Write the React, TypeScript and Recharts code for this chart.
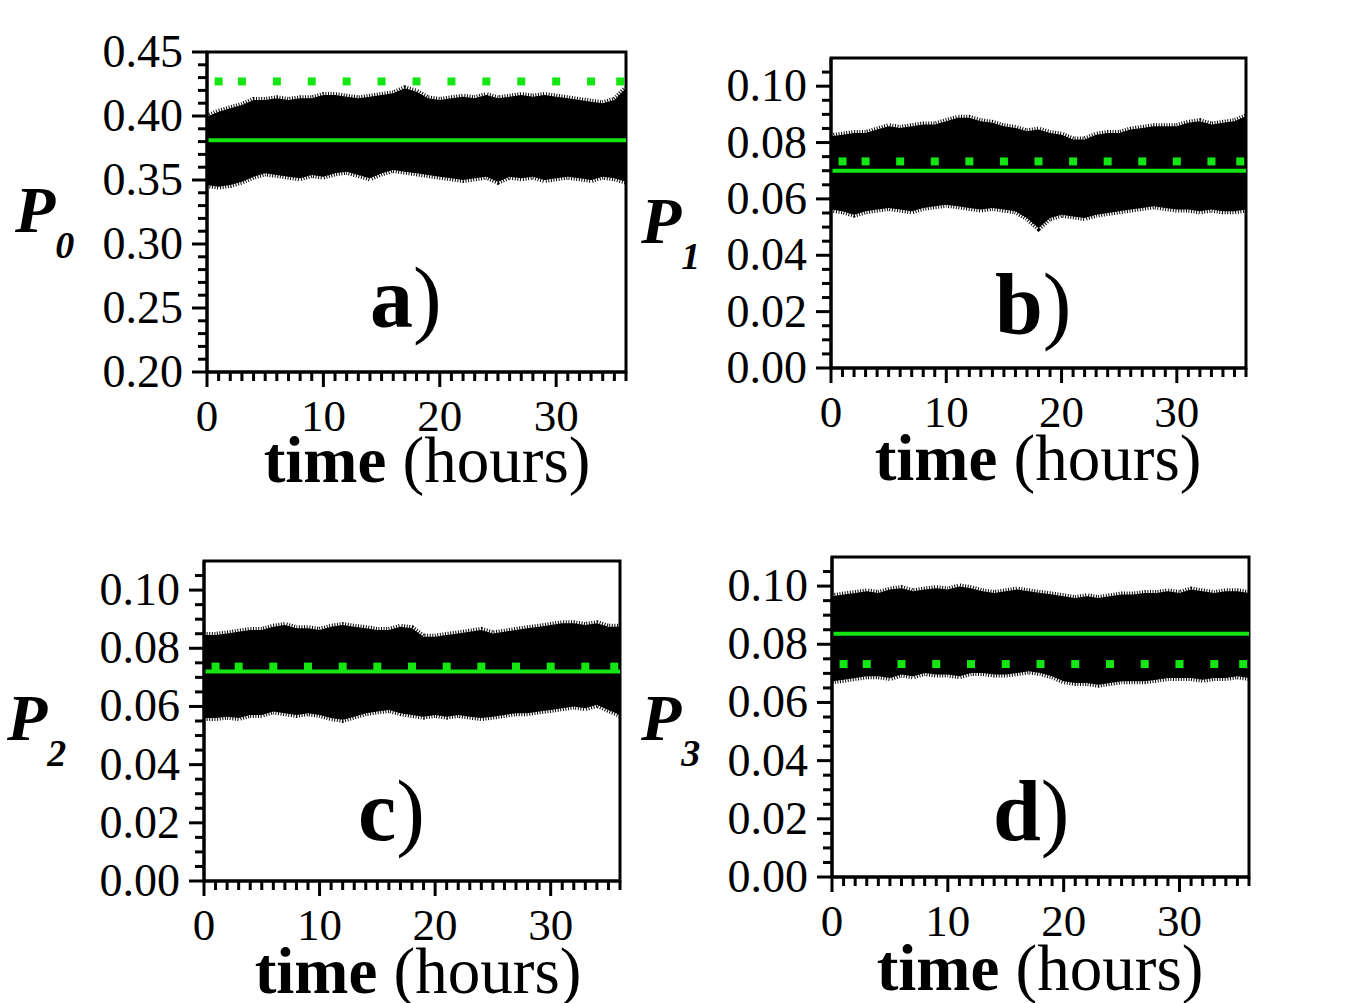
import {
  ComposedChart,
  Area,
  Line,
  Scatter,
  XAxis,
  YAxis,
  ReferenceArea,
  Label,
} from "recharts";

// time axis, hours
const hours = [
  0, 1, 2, 3, 4, 5, 6, 7, 8, 9, 10, 11, 12, 13, 14, 15, 16, 17, 18, 19, 20,
  21, 22, 23, 24, 25, 26, 27, 28, 29, 30, 31, 32, 33, 34, 35, 36,
];

// envelope of the noisy signal (upper / lower edge)
const p0High = [
  0.3995, 0.4034, 0.406, 0.4086, 0.4125, 0.4125, 0.4138, 0.4125, 0.4138,
  0.4138, 0.4164, 0.4164, 0.4151, 0.4138, 0.4151, 0.4164, 0.4177, 0.4216,
  0.419, 0.4138, 0.4125, 0.4138, 0.4151, 0.4138, 0.4164, 0.4138, 0.4151,
  0.4164, 0.4151, 0.4164, 0.4151, 0.4138, 0.4125, 0.4112, 0.4099, 0.4125,
  0.4216,
];
const p0Low = [
  0.3461, 0.3448, 0.3461, 0.3487, 0.3526, 0.3552, 0.3539, 0.3526, 0.3513,
  0.3539, 0.3526, 0.3552, 0.3565, 0.3539, 0.3513, 0.3552, 0.3578, 0.3565,
  0.3552, 0.3539, 0.3526, 0.3513, 0.35, 0.3513, 0.3526, 0.3487, 0.3526,
  0.3513, 0.3526, 0.35, 0.3513, 0.3526, 0.3513, 0.35, 0.3526, 0.3513, 0.3487,
];
const p1High = [
  0.0822, 0.0828, 0.0834, 0.0834, 0.0846, 0.0858, 0.0852, 0.0858, 0.0864,
  0.0864, 0.0876, 0.0888, 0.0888, 0.0876, 0.087, 0.0858, 0.0852, 0.084,
  0.0846, 0.0834, 0.0828, 0.0811, 0.0811, 0.0828, 0.0834, 0.0834, 0.0846,
  0.0852, 0.0858, 0.0858, 0.0858, 0.087, 0.0876, 0.0864, 0.087, 0.0876,
  0.0893,
];
const p1Low = [
  0.0562, 0.0556, 0.0544, 0.0556, 0.0562, 0.0568, 0.0562, 0.0556, 0.0568,
  0.0574, 0.0579, 0.0574, 0.0568, 0.0562, 0.0568, 0.0562, 0.0556, 0.0532,
  0.0497, 0.0532, 0.0544, 0.0538, 0.0532, 0.0544, 0.055, 0.0556, 0.0562,
  0.0568, 0.0574, 0.0568, 0.0562, 0.0562, 0.0556, 0.0562, 0.0556, 0.0556,
  0.0562,
];
const p2High = [
  0.0846, 0.0846, 0.0851, 0.0857, 0.0863, 0.0863, 0.0874, 0.088, 0.0869,
  0.0869, 0.0863, 0.0874, 0.088, 0.0874, 0.0869, 0.0863, 0.0863, 0.0874,
  0.0869, 0.084, 0.084, 0.0846, 0.0851, 0.0857, 0.0863, 0.0851, 0.0857,
  0.0863, 0.0869, 0.0874, 0.088, 0.0886, 0.0886, 0.088, 0.0886, 0.0874,
  0.0874,
];
const p2Low = [
  0.056, 0.056, 0.0565, 0.056, 0.0571, 0.0571, 0.0583, 0.0577, 0.0571,
  0.0577, 0.0571, 0.056, 0.0554, 0.0565, 0.0577, 0.0583, 0.0588, 0.0577,
  0.0571, 0.0565, 0.0571, 0.0565, 0.0571, 0.0565, 0.056, 0.0565, 0.0571,
  0.0577, 0.0577, 0.0583, 0.0588, 0.0594, 0.06, 0.0594, 0.0606, 0.0588,
  0.0571,
];
const p3High = [
  0.0965, 0.0971, 0.0976, 0.0982, 0.0976, 0.0988, 0.0993, 0.0982, 0.0988,
  0.0993, 0.0988, 0.0999, 0.0993, 0.0982, 0.0976, 0.0982, 0.0988, 0.0982,
  0.0976, 0.0971, 0.0965, 0.0959, 0.0965, 0.0959, 0.0965, 0.0971, 0.0971,
  0.0976, 0.0976, 0.0982, 0.0976, 0.0988, 0.0982, 0.0976, 0.0982, 0.0982,
  0.0976,
];
const p3Low = [
  0.0673, 0.0678, 0.0684, 0.069, 0.069, 0.0684, 0.0696, 0.069, 0.0701,
  0.0696, 0.0696, 0.069, 0.0701, 0.0701, 0.0696, 0.0696, 0.0701, 0.0707,
  0.0701, 0.069, 0.0673, 0.0667, 0.0667, 0.0661, 0.0667, 0.0673, 0.0673,
  0.0673, 0.0678, 0.0684, 0.0684, 0.0684, 0.0678, 0.0684, 0.0684, 0.069,
  0.0684,
];

// solid green = time average, dotted green = theoretical value
const meanLevels = [0.381, 0.07, 0.072, 0.0836];
const theoryLevels = [0.427, 0.0733, 0.0737, 0.0732];
const theoryTimes = [1, 3, 6, 9, 12, 15, 18, 21, 24, 27, 30, 33, 35.5];

const xMajorTicks = [0, 10, 20, 30];
const yMajorTicksP0 = [0.2, 0.25, 0.3, 0.35, 0.4, 0.45];
const yMajorTicksP = [0, 0.02, 0.04, 0.06, 0.08, 0.1];
const panelLetters = ["a", "b", "c", "d"];
const subscripts = ["0", "1", "2", "3"];

const GREEN = "#14e614";
const FONT = '"Liberation Serif", "Times New Roman", serif';

const steps = (from: number, to: number, step: number) => {
  const out: number[] = [];
  for (let v = from; v <= to + 1e-9; v += step) out.push(+v.toFixed(4));
  return out;
};
const xTicks = steps(0, 36, 1);
const isIn = (list: number[], v: number) => list.some((m) => Math.abs(m - v) < 1e-6);

// layout in page pixels
const layouts = [
  { box: { left: 0, top: 0, width: 630, height: 500 }, plot: { left: 207, top: 52, right: 626, bottom: 372 },
    pLabel: [15, 232], letter: [370, 327], time: [427, 482] },
  { box: { left: 630, top: 0, width: 719, height: 500 }, plot: { left: 831, top: 58, right: 1246, bottom: 368 },
    pLabel: [641, 243], letter: [995, 333], time: [1038, 480] },
  { box: { left: 0, top: 500, width: 630, height: 503 }, plot: { left: 204, top: 561, right: 620, bottom: 881 },
    pLabel: [7, 740], letter: [358, 840], time: [418, 993] },
  { box: { left: 630, top: 500, width: 719, height: 503 }, plot: { left: 832, top: 557, right: 1249, bottom: 877 },
    pLabel: [641, 740], letter: [993, 840], time: [1040, 990] },
];

const panels = [
  { high: p0High, low: p0Low, domain: [0.2, 0.45], yMajor: yMajorTicksP0, yTicks: steps(0.2, 0.45, 0.01) },
  { high: p1High, low: p1Low, domain: [0, 0.11], yMajor: yMajorTicksP, yTicks: steps(0, 0.105, 0.005) },
  { high: p2High, low: p2Low, domain: [0, 0.11], yMajor: yMajorTicksP, yTicks: steps(0, 0.105, 0.005) },
  { high: p3High, low: p3Low, domain: [0, 0.11], yMajor: yMajorTicksP, yTicks: steps(0, 0.105, 0.005) },
];

function Square(props: any) {
  const { cx, cy } = props;
  if (cx == null || cy == null) return null;
  return <rect x={cx - 4} y={cy - 4} width={8} height={8} fill={GREEN} />;
}

function Panel({ index }: { index: number }) {
  const cfg = panels[index];
  const lay = layouts[index];
  const { box } = lay;
  const plotLeft = lay.plot.left - box.left;
  const plotTop = lay.plot.top - box.top;
  const plotRight = lay.plot.right - box.left;
  const plotBottom = lay.plot.bottom - box.top;

  const rows = hours.map((t, i) => ({
    t,
    band: [cfg.low[i], cfg.high[i]],
    mean: meanLevels[index],
  }));
  const dots = theoryTimes.map((t) => ({ t, v: theoryLevels[index] }));

  const xTick = (p: any) => {
    const major = isIn(xMajorTicks, p.payload.value);
    return (
      <g>
        <line x1={p.x} x2={p.x} y1={plotBottom} y2={plotBottom + (major ? 15 : 9)} stroke="#000" strokeWidth={3} />
        {major && (
          <text x={p.x} y={plotBottom + 59} textAnchor="middle" fontFamily={FONT} fontSize={45} fill="#000">
            {p.payload.value}
          </text>
        )}
      </g>
    );
  };

  const yTick = (p: any) => {
    const major = isIn(cfg.yMajor, p.payload.value);
    return (
      <g>
        <line x1={plotLeft - (major ? 15 : 9)} x2={plotLeft} y1={p.y} y2={p.y} stroke="#000" strokeWidth={3} />
        {major && (
          <text x={plotLeft - 24} y={p.y + 15} textAnchor="end" fontFamily={FONT} fontSize={46} fill="#000">
            {Number(p.payload.value).toFixed(2)}
          </text>
        )}
      </g>
    );
  };

  const texts = () => (
    <g fontFamily={FONT} fill="#000">
      <text x={lay.pLabel[0] - box.left} y={lay.pLabel[1] - box.top} fontSize={66} fontWeight="bold" fontStyle="italic">
        P
        <tspan dy={26} fontSize={38}>
          {subscripts[index]}
        </tspan>
      </text>
      <text x={lay.letter[0] - box.left} y={lay.letter[1] - box.top} fontSize={86} fontWeight="bold">
        {panelLetters[index]}
        <tspan fontWeight="normal">)</tspan>
      </text>
      <text x={lay.time[0] - box.left} y={lay.time[1] - box.top} fontSize={65} textAnchor="middle">
        <tspan fontWeight="bold">time</tspan>
        <tspan> (hours)</tspan>
      </text>
    </g>
  );

  return (
    <div style={{ position: "absolute", left: box.left, top: box.top }}>
      <ComposedChart
        width={box.width}
        height={box.height}
        data={rows}
        margin={{ top: plotTop, right: box.width - plotRight, bottom: 0, left: 0 }}
      >
        <XAxis
          dataKey="t"
          type="number"
          domain={[0, 36]}
          ticks={xTicks}
          interval={0}
          height={box.height - plotBottom}
          axisLine={{ stroke: "#000", strokeWidth: 3 }}
          tickLine={false}
          tick={xTick}
          allowDataOverflow
        >
          <Label content={texts} />
        </XAxis>
        <YAxis
          type="number"
          domain={cfg.domain}
          ticks={cfg.yTicks}
          interval={0}
          width={plotLeft}
          axisLine={{ stroke: "#000", strokeWidth: 3 }}
          tickLine={false}
          tick={yTick}
          allowDataOverflow
        />
        <Area
          type="linear"
          dataKey="band"
          stroke="#000"
          strokeWidth={6}
          strokeDasharray="1 1.6"
          fill="#000"
          fillOpacity={1}
          dot={false}
          activeDot={false}
          isAnimationActive={false}
        />
        <Line
          type="linear"
          dataKey="mean"
          stroke={GREEN}
          strokeWidth={4}
          dot={false}
          activeDot={false}
          isAnimationActive={false}
        />
        <Scatter data={dots} dataKey="v" shape={Square} isAnimationActive={false} />
        <ReferenceArea
          x1={0}
          x2={36}
          y1={cfg.domain[0]}
          y2={cfg.domain[1]}
          fill="none"
          fillOpacity={0}
          stroke="#000"
          strokeWidth={3}
          ifOverflow="visible"
        />
      </ComposedChart>
    </div>
  );
}

export default function App() {
  return (
    <div style={{ position: "absolute", left: 0, top: 0, width: 1349, height: 1003, background: "#fff" }}>
      {[0, 1, 2, 3].map((i) => (
        <Panel key={i} index={i} />
      ))}
    </div>
  );
}
